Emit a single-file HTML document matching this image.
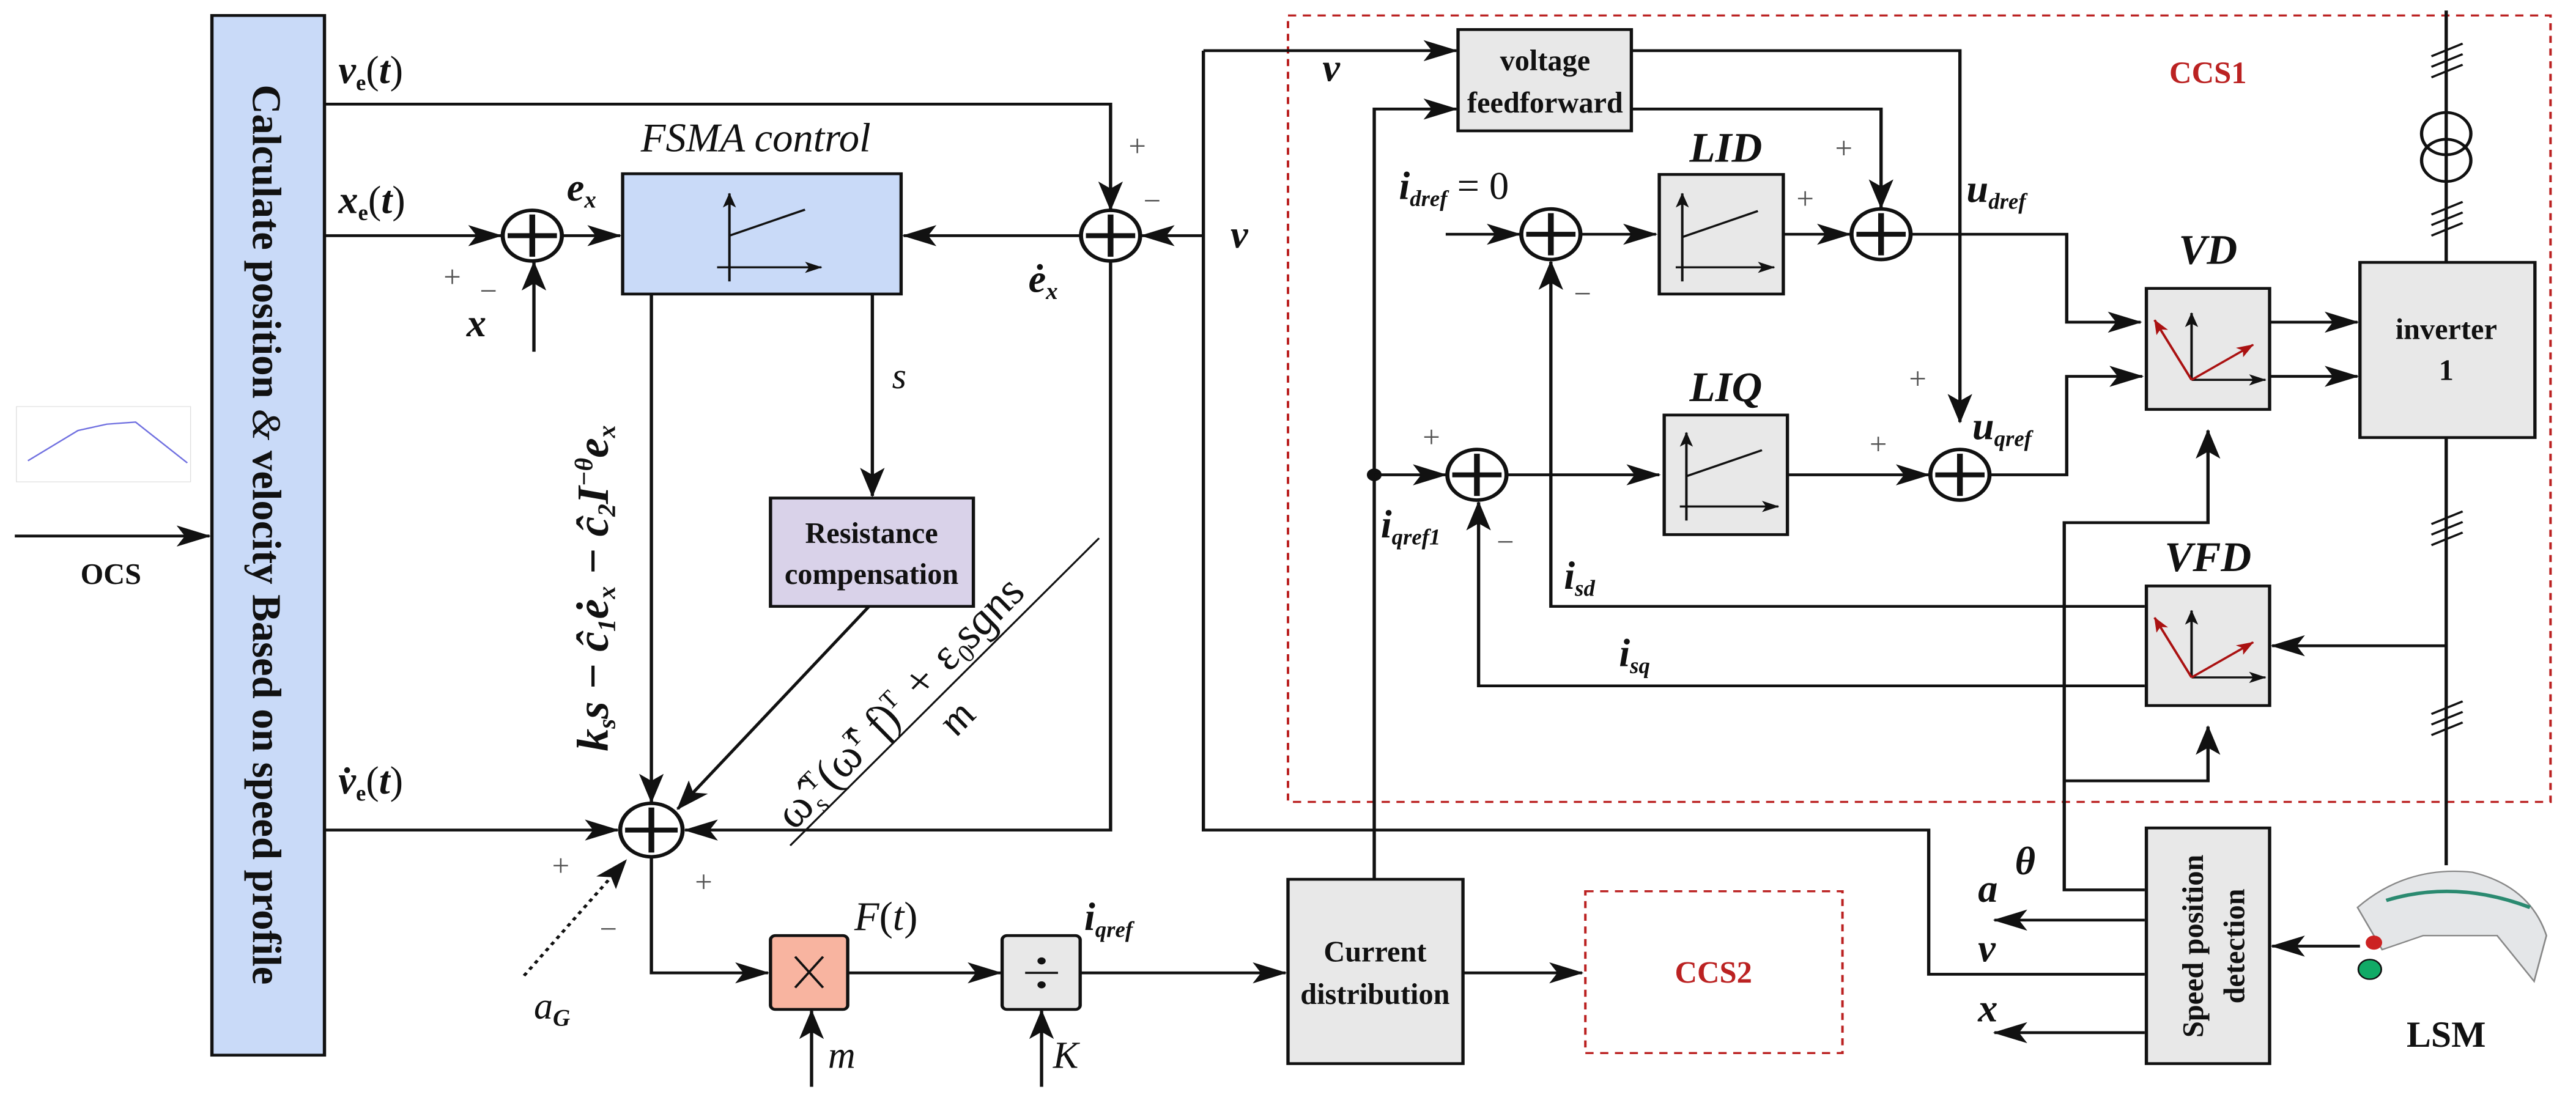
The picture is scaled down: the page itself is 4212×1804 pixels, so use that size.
<!DOCTYPE html>
<html><head><meta charset="utf-8"><style>
html,body{margin:0;padding:0;background:#fff;}
svg{display:block;}
text{font-family:"Liberation Serif",serif;fill:#111;}
.m{font-weight:bold;font-style:italic;font-size:56px;}
.b{font-weight:bold;font-size:42px;}
.s{font-size:44px;fill:#555;}
.r{fill:#b22;font-weight:bold;font-size:44px;}
</style></head><body>
<svg width="4212" height="1804" viewBox="0 0 3136 1568" preserveAspectRatio="none" xmlns="http://www.w3.org/2000/svg">
<defs>
<marker id="a" markerUnits="userSpaceOnUse" markerWidth="44" markerHeight="30" refX="40" refY="15" orient="auto">
<path d="M0,0 L42,15 L0,30 L10,15 Z" fill="#111"/></marker>
<marker id="sa" markerUnits="userSpaceOnUse" markerWidth="22" markerHeight="16" refX="20" refY="8" orient="auto">
<path d="M0,0 L21,8 L0,16 L5,8 Z" fill="#111"/></marker>
<marker id="ra" markerUnits="userSpaceOnUse" markerWidth="22" markerHeight="16" refX="20" refY="8" orient="auto">
<path d="M0,0 L21,8 L0,16 L5,8 Z" fill="#a11"/></marker>
</defs>
<g stroke="#111" stroke-width="4" fill="none">
<rect x="258" y="22" width="137" height="1478" fill="#c9daf8"/>
<rect x="20" y="578" width="212" height="107" fill="#fff" stroke="#ddd" stroke-width="1"/>
<polyline points="34,655 95,612 130,603 165,600 228,658" stroke="#7070e0" stroke-width="2"/>
<line x1="18" y1="762" x2="255" y2="762" marker-end="url(#a)"/>
<polyline points="395,148 1352,148 1352,298" marker-end="url(#a)"/>
<line x1="395" y1="335" x2="610" y2="335" marker-end="url(#a)"/>
<circle cx="648" cy="335" r="36" stroke-width="5"/><path d="M648,305 V365 M618,335 H678" stroke-width="7"/>
<line x1="650" y1="500" x2="650" y2="373" marker-end="url(#a)"/>
<line x1="684" y1="335" x2="755" y2="335" marker-end="url(#a)"/>
<rect x="758" y="247" width="339" height="171" fill="#c9daf8"/>
<line x1="888" y1="400" x2="888" y2="275" stroke-width="3" marker-end="url(#sa)"/>
<line x1="873" y1="380" x2="1000" y2="380" stroke-width="3" marker-end="url(#sa)"/>
<line x1="888" y1="335" x2="980" y2="298" stroke-width="3"/>
<circle cx="1352" cy="335" r="36" stroke-width="5"/><path d="M1352,305 V365 M1322,335 H1382" stroke-width="7"/>
<polyline points="1465,72 1465,1180 1568,1180"/>
<line x1="1465" y1="335" x2="1390" y2="335" marker-end="url(#a)"/>
<line x1="1316" y1="335" x2="1100" y2="335" marker-end="url(#a)"/>
<polyline points="1352,372 1352,1180 834,1180" marker-end="url(#a)"/>
<line x1="793" y1="418" x2="793" y2="1140" marker-end="url(#a)"/>
<line x1="1062" y1="418" x2="1062" y2="705" marker-end="url(#a)"/>
<rect x="938" y="708" width="247" height="154" fill="#d9d2e9"/>
<line x1="1058" y1="862" x2="825" y2="1150" marker-end="url(#a)"/>
<line x1="962" y1="1202" x2="1338" y2="765" stroke-width="2.5"/>
<line x1="395" y1="1180" x2="752" y2="1180" marker-end="url(#a)"/>
<circle cx="793" cy="1180" r="38" stroke-width="5"/><path d="M793,1148 V1212 M761,1180 H825" stroke-width="7"/>
<line x1="638" y1="1387" x2="762" y2="1223" stroke-dasharray="5,6" marker-end="url(#a)"/>
<polyline points="793,1218 793,1383 935,1383" marker-end="url(#a)"/>
<rect x="938" y="1330" width="94" height="105" rx="6" fill="#f8b4a0"/>
<path d="M968,1360 L1002,1404 M1002,1360 L968,1404" stroke-width="3"/>
<line x1="988" y1="1545" x2="988" y2="1437" marker-end="url(#a)"/>
<line x1="1032" y1="1383" x2="1218" y2="1383" marker-end="url(#a)"/>
<rect x="1220" y="1330" width="95" height="105" rx="6" fill="#e8e8e8"/>
<path d="M1248,1383 H1288" stroke-width="3"/><circle cx="1268" cy="1366" r="3" fill="#111"/><circle cx="1268" cy="1400" r="3" fill="#111"/>
<line x1="1268" y1="1545" x2="1268" y2="1437" marker-end="url(#a)"/>
<line x1="1315" y1="1383" x2="1565" y2="1383" marker-end="url(#a)"/>
<rect x="1568" y="22" width="1537" height="1118" stroke="#b22" stroke-width="3" stroke-dasharray="10,8"/>
<polyline points="1465,72 1773,72" marker-end="url(#a)"/>
<rect x="1775" y="42" width="211" height="144" fill="#e8e8e8"/>
<polyline points="1673,1250 1673,155 1773,155" marker-end="url(#a)"/>
<circle cx="1673" cy="675" r="7" fill="#111"/>
<polyline points="1986,72 2386,72 2386,600" marker-end="url(#a)"/>
<polyline points="1986,155 2290,155 2290,295" marker-end="url(#a)"/>
<line x1="1760" y1="333" x2="1850" y2="333" marker-end="url(#a)"/>
<circle cx="1888" cy="333" r="36" stroke-width="5"/><path d="M1888,303 V363 M1858,333 H1918" stroke-width="7"/>
<line x1="1926" y1="333" x2="2016" y2="333" marker-end="url(#a)"/>
<rect x="2020" y="248" width="151" height="170" fill="#e8e8e8"/>
<line x1="2048" y1="400" x2="2048" y2="275" stroke-width="3" marker-end="url(#sa)"/>
<line x1="2040" y1="380" x2="2160" y2="380" stroke-width="3" marker-end="url(#sa)"/>
<line x1="2048" y1="337" x2="2140" y2="300" stroke-width="3"/>
<line x1="2171" y1="333" x2="2252" y2="333" marker-end="url(#a)"/>
<circle cx="2290" cy="333" r="36" stroke-width="5"/><path d="M2290,303 V363 M2260,333 H2320" stroke-width="7"/>
<polyline points="2328,333 2516,333 2516,458 2606,458" marker-end="url(#a)"/>
<line x1="1673" y1="675" x2="1760" y2="675" marker-end="url(#a)"/>
<circle cx="1798" cy="675" r="36" stroke-width="5"/><path d="M1798,645 V705 M1768,675 H1828" stroke-width="7"/>
<line x1="1836" y1="675" x2="2020" y2="675" marker-end="url(#a)"/>
<rect x="2026" y="590" width="150" height="170" fill="#e8e8e8"/>
<line x1="2053" y1="740" x2="2053" y2="615" stroke-width="3" marker-end="url(#sa)"/>
<line x1="2045" y1="720" x2="2165" y2="720" stroke-width="3" marker-end="url(#sa)"/>
<line x1="2053" y1="677" x2="2145" y2="640" stroke-width="3"/>
<line x1="2176" y1="675" x2="2348" y2="675" marker-end="url(#a)"/>
<circle cx="2386" cy="675" r="36" stroke-width="5"/><path d="M2386,645 V705 M2356,675 H2416" stroke-width="7"/>
<polyline points="2423,675 2516,675 2516,535 2608,535" marker-end="url(#a)"/>
<rect x="2613" y="410" width="150" height="172" fill="#e8e8e8"/>
<rect x="2613" y="833" width="150" height="170" fill="#e8e8e8"/>
<line x1="2763" y1="458" x2="2870" y2="458" marker-end="url(#a)"/>
<line x1="2763" y1="535" x2="2870" y2="535" marker-end="url(#a)"/>
<rect x="2873" y="373" width="213" height="249" fill="#e8e8e8"/>
<line x1="2978" y1="15" x2="2978" y2="373"/>
<circle cx="2978" cy="190" r="30"/><circle cx="2978" cy="228" r="30"/>
<line x1="2978" y1="622" x2="2978" y2="1230"/>
<path d="M2960,80 L2998,62 M2960,95 L2998,77 M2960,110 L2998,92 M2960,305 L2998,287 M2960,320 L2998,302 M2960,335 L2998,317 M2960,745 L2998,727 M2960,760 L2998,742 M2960,775 L2998,757 M2960,1015 L2998,997 M2960,1030 L2998,1012 M2960,1045 L2998,1027" stroke-width="3"/>
<line x1="2978" y1="918" x2="2766" y2="918" marker-end="url(#a)"/>
<polyline points="2611,862 1888,862 1888,372" marker-end="url(#a)"/>
<polyline points="2611,975 1800,975 1800,714" marker-end="url(#a)"/>
<polyline points="2611,1265 2513,1265 2513,743 2688,743 2688,612" marker-end="url(#a)"/>
<polyline points="2513,1110 2688,1110 2688,1033" marker-end="url(#a)"/>
<polyline points="1568,1180 2348,1180 2348,1385 2611,1385"/>
<rect x="2613" y="1177" width="150" height="335" fill="#e8e8e8"/>
<line x1="2611" y1="1308" x2="2428" y2="1308" marker-end="url(#a)"/>
<line x1="2611" y1="1468" x2="2428" y2="1468" marker-end="url(#a)"/>
<line x1="2873" y1="1345" x2="2766" y2="1345" marker-end="url(#a)"/>
<rect x="1568" y="1250" width="213" height="262" fill="#e8e8e8"/>
<line x1="1781" y1="1383" x2="1926" y2="1383" marker-end="url(#a)"/>
<rect x="1930" y="1267" width="313" height="230" stroke="#b22" stroke-width="3" stroke-dasharray="10,8"/>
<path d="M2870,1290 Q2930,1230 3010,1240 Q3080,1260 3100,1330 L3085,1395 L3040,1330 L2950,1330 L2900,1350 Z" fill="#e4e6e8" stroke="#888" stroke-width="2"/>
<path d="M2905,1280 Q2990,1250 3080,1290" stroke="#2a8a70" stroke-width="5"/>
<circle cx="2885" cy="1378" r="14" fill="#1a6" stroke="#111" stroke-width="2"/>
<circle cx="2890" cy="1340" r="10" fill="#c22" stroke="none"/>
</g>
<g stroke-width="3" fill="none">
<g transform="translate(2613,410)"><line x1="55" y1="130" x2="55" y2="35" stroke="#111" marker-end="url(#sa)"/><line x1="55" y1="130" x2="145" y2="130" stroke="#111" marker-end="url(#sa)"/><line x1="55" y1="130" x2="10" y2="45" stroke="#a11" marker-end="url(#ra)"/><line x1="55" y1="130" x2="130" y2="80" stroke="#a11" marker-end="url(#ra)"/></g>
<g transform="translate(2613,833)"><line x1="55" y1="130" x2="55" y2="35" stroke="#111" marker-end="url(#sa)"/><line x1="55" y1="130" x2="145" y2="130" stroke="#111" marker-end="url(#sa)"/><line x1="55" y1="130" x2="10" y2="45" stroke="#a11" marker-end="url(#ra)"/><line x1="55" y1="130" x2="130" y2="80" stroke="#a11" marker-end="url(#ra)"/></g>
</g>
<text class="b" text-anchor="middle" transform="translate(308,760) rotate(90) scale(1,0.856)" style="font-size:58px">Calculate position <tspan font-weight="normal" font-style="italic">&amp;</tspan> velocity Based on speed profile</text>
<text class="b" text-anchor="middle" transform="translate(135,830) scale(0.856,1)">OCS</text>
<text class="m" transform="translate(412,118) scale(0.856,1)">v<tspan font-size="32" font-style="normal" dy="10">e</tspan><tspan dy="-10" font-style="normal" font-weight="normal">(</tspan>t<tspan font-style="normal" font-weight="normal">)</tspan></text>
<text class="m" transform="translate(412,303) scale(0.856,1)">x<tspan font-size="32" font-style="normal" dy="10">e</tspan><tspan dy="-10" font-style="normal" font-weight="normal">(</tspan>t<tspan font-style="normal" font-weight="normal">)</tspan></text>
<text class="m" transform="translate(412,1128) scale(0.856,1)">v̇<tspan font-size="32" font-style="normal" dy="10">e</tspan><tspan dy="-10" font-style="normal" font-weight="normal">(</tspan>t<tspan font-style="normal" font-weight="normal">)</tspan></text>
<text style="font-style:italic;font-size:58px" text-anchor="middle" transform="translate(920,215) scale(0.856,1)">FSMA control</text>
<text class="m" transform="translate(690,285) scale(0.856,1)">e<tspan font-size="34" dy="10">x</tspan></text>
<text class="m" transform="translate(1252,415) scale(0.856,1)">ė<tspan font-size="34" dy="10">x</tspan></text>
<text class="m" transform="translate(1498,352) scale(0.856,1)">v</text>
<text class="m" transform="translate(568,478) scale(0.856,1)">x</text>
<text class="s" transform="translate(540,408) scale(0.856,1)">+</text>
<text class="s" transform="translate(584,428) scale(0.856,1)">−</text>
<text class="s" transform="translate(1374,222) scale(0.856,1)">+</text>
<text class="s" transform="translate(1392,300) scale(0.856,1)">−</text>
<text style="font-style:italic;font-size:52px" transform="translate(1086,552) scale(0.856,1)">s</text>
<text class="b" text-anchor="middle" transform="translate(1061,772) scale(0.856,1)">Resistance</text>
<text class="b" text-anchor="middle" transform="translate(1061,830) scale(0.856,1)">compensation</text>
<text class="m" style="font-size:64px" transform="translate(740,1068) rotate(-90) scale(1,0.856)">k<tspan font-size="36" dy="10">s</tspan><tspan dy="-10">s − ĉ</tspan><tspan font-size="36" dy="10">1</tspan><tspan dy="-10">ė</tspan><tspan font-size="36" dy="10">x</tspan><tspan dy="-10"> − ĉ</tspan><tspan font-size="36" dy="10">2</tspan><tspan dy="-10">I</tspan><tspan font-size="36" dy="-22">−θ</tspan><tspan dy="22">e</tspan><tspan font-size="36" dy="10">x</tspan></text>
<text style="font-style:italic;font-size:64px" transform="translate(968,1180) rotate(-50) scale(0.93,0.93)">ω̂<tspan font-size="36" dy="12">s</tspan><tspan font-size="36" dy="-34">T</tspan><tspan dy="22">(ω̂</tspan><tspan font-size="36" dy="-22">T</tspan><tspan dy="22"> f)</tspan><tspan font-size="36" dy="-22">T</tspan><tspan dy="22"> + ε</tspan><tspan font-size="36" dy="10">0</tspan><tspan dy="-10">sgn</tspan><tspan>s</tspan></text>
<text style="font-style:italic;font-size:60px" transform="translate(1165,1048) rotate(-50) scale(0.93,0.93)">m</text>
<text class="s" transform="translate(672,1245) scale(0.856,1)">+</text>
<text class="s" transform="translate(846,1268) scale(0.856,1)">+</text>
<text class="s" transform="translate(730,1335) scale(0.856,1)">−</text>
<text style="font-style:italic;font-size:54px" transform="translate(650,1448) scale(0.856,1)">a<tspan font-size="34" dy="10" font-weight="bold">G</tspan></text>
<text style="font-style:italic;font-size:58px" transform="translate(1040,1322) scale(0.856,1)">F<tspan font-style="normal">(</tspan>t<tspan font-style="normal">)</tspan></text>
<text class="m" transform="translate(1320,1322) scale(0.856,1)">i<tspan font-size="32" dy="10">qref</tspan></text>
<text style="font-style:italic;font-size:54px" transform="translate(1008,1518) scale(0.856,1)">m</text>
<text style="font-style:italic;font-size:54px" transform="translate(1282,1518) scale(0.856,1)">K</text>
<text class="r" text-anchor="middle" transform="translate(2688,118) scale(0.856,1)">CCS1</text>
<text class="m" transform="translate(1610,115) scale(0.856,1)">v</text>
<text class="b" text-anchor="middle" transform="translate(1881,100) scale(0.856,1)">voltage</text>
<text class="b" text-anchor="middle" transform="translate(1881,160) scale(0.856,1)">feedforward</text>
<text class="m" style="font-size:60px" text-anchor="middle" transform="translate(2101,230) scale(0.856,1)">LID</text>
<text class="m" style="font-size:60px" text-anchor="middle" transform="translate(2101,570) scale(0.856,1)">LIQ</text>
<text class="m" style="font-size:60px" text-anchor="middle" transform="translate(2688,375) scale(0.856,1)">VD</text>
<text class="m" style="font-size:60px" text-anchor="middle" transform="translate(2688,812) scale(0.856,1)">VFD</text>
<text class="m" transform="translate(1703,283) scale(0.856,1)">i<tspan font-size="32" dy="10">dref</tspan><tspan dy="-10" font-style="normal" font-weight="normal"> = 0</tspan></text>
<text class="m" transform="translate(2394,287) scale(0.856,1)">u<tspan font-size="32" dy="10">dref</tspan></text>
<text class="m" transform="translate(2401,624) scale(0.856,1)">u<tspan font-size="32" dy="10">qref</tspan></text>
<text class="m" transform="translate(1681,764) scale(0.856,1)">i<tspan font-size="32" dy="10">qref1</tspan></text>
<text class="m" transform="translate(1904,837) scale(0.856,1)">i<tspan font-size="32" dy="10">sd</tspan></text>
<text class="m" transform="translate(1971,947) scale(0.856,1)">i<tspan font-size="32" dy="10">sq</tspan></text>
<text class="s" transform="translate(2234,225) scale(0.856,1)">+</text>
<text class="s" transform="translate(2187,297) scale(0.856,1)">+</text>
<text class="s" transform="translate(1916,432) scale(0.856,1)">−</text>
<text class="s" transform="translate(1732,636) scale(0.856,1)">+</text>
<text class="s" transform="translate(1822,785) scale(0.856,1)">−</text>
<text class="s" transform="translate(2276,646) scale(0.856,1)">+</text>
<text class="s" transform="translate(2324,553) scale(0.856,1)">+</text>
<text class="b" text-anchor="middle" transform="translate(2978,482) scale(0.856,1)">inverter</text>
<text class="b" text-anchor="middle" transform="translate(2978,540) scale(0.856,1)">1</text>
<text class="m" transform="translate(2453,1243) scale(0.856,1)">θ</text>
<text class="m" transform="translate(2408,1282) scale(0.856,1)">a</text>
<text class="m" transform="translate(2408,1367) scale(0.856,1)">v</text>
<text class="m" transform="translate(2408,1452) scale(0.856,1)">x</text>
<text class="b" text-anchor="middle" transform="translate(2682,1345) rotate(-90) scale(1,0.856)">Speed position</text>
<text class="b" text-anchor="middle" transform="translate(2732,1345) rotate(-90) scale(1,0.856)">detection</text>
<text class="b" style="font-size:52px" text-anchor="middle" transform="translate(2978,1488) scale(0.856,1)">LSM</text>
<text class="b" text-anchor="middle" transform="translate(1674,1367) scale(0.856,1)">Current</text>
<text class="b" text-anchor="middle" transform="translate(1674,1427) scale(0.856,1)">distribution</text>
<text class="r" text-anchor="middle" transform="translate(2086,1397) scale(0.856,1)">CCS2</text>
</svg>
</body></html>
